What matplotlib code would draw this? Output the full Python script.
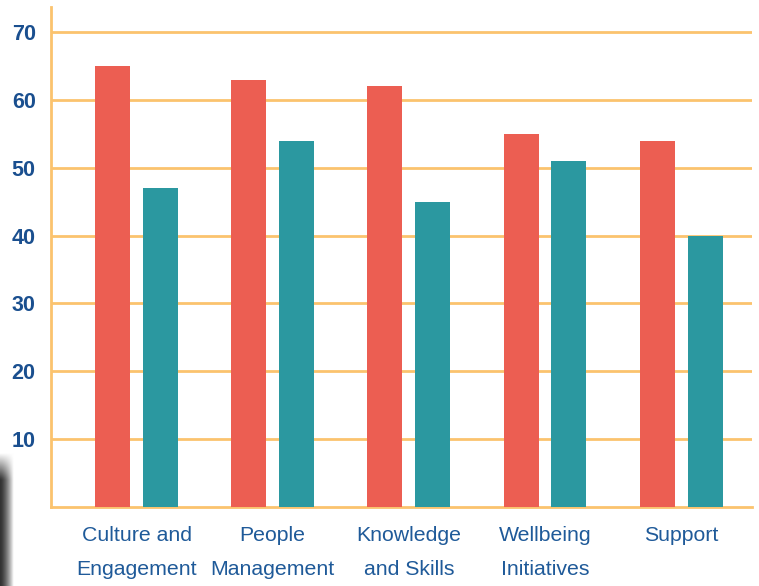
import matplotlib
matplotlib.use("Agg")
import matplotlib.pyplot as plt
import numpy as np

plt.rcParams['font.family'] = ['Liberation Sans', 'DejaVu Sans']

categories = ['Culture and\nEngagement', 'People\nManagement', 'Knowledge\nand Skills',
              'Wellbeing\nInitiatives', 'Support']
series_a = [65, 63, 62, 55, 54]
series_b = [47, 54, 45, 51, 40]
yticks = [10, 20, 30, 40, 50, 60, 70]

red = '#EC5E52'
teal = '#2B98A0'
grid_col = '#FBC36E'
tick_blue = '#1A4F8F'
label_blue = '#1F5A99'

fig = plt.figure(figsize=(7.59, 5.86), dpi=100)
ax = fig.add_axes([51 / 759, 1 - 507 / 586, (752 - 51) / 759, (507 - 7) / 586])

x = np.arange(len(categories))
w = 0.257
off = 0.176
ax.bar(x - off, series_a, w, color=red, zorder=3)
ax.bar(x + off, series_b, w, color=teal, zorder=3)

ax.set_xlim(-0.628, 4.52)
ax.set_ylim(0, 73.7)
ax.set_yticks(yticks)
ax.set_yticklabels([str(t) for t in yticks], fontsize=15.5, fontweight='bold', color=tick_blue)
ax.set_xticks(x)
ax.set_xticklabels(categories, fontsize=15.3, color=label_blue, linespacing=1.95)
ax.tick_params(axis='both', length=0)
ax.tick_params(axis='y', pad=11)
ax.tick_params(axis='x', pad=14)

ax.grid(axis='y', color=grid_col, linewidth=2, zorder=1)
for s in ['top', 'right']:
    ax.spines[s].set_visible(False)
for s in ['left', 'bottom']:
    ax.spines[s].set_color(grid_col)
    ax.spines[s].set_linewidth(2)

# dark shadow strip at the bottom-left edge
sh = fig.add_axes([0, 0, 14 / 759, (586 - 452) / 586])
gx = np.clip(1 - np.linspace(0, 1, 30) ** 1.5, 0, 1)
gy = np.clip(np.linspace(0, 1, 60) / 0.2, 0, 1)
img = 1 - np.outer(gy, gx) * 0.8
sh.imshow(img, cmap='gray', vmin=0, vmax=1, aspect='auto', interpolation='bilinear')
sh.axis('off')

fig.savefig('out.png', dpi=100)
